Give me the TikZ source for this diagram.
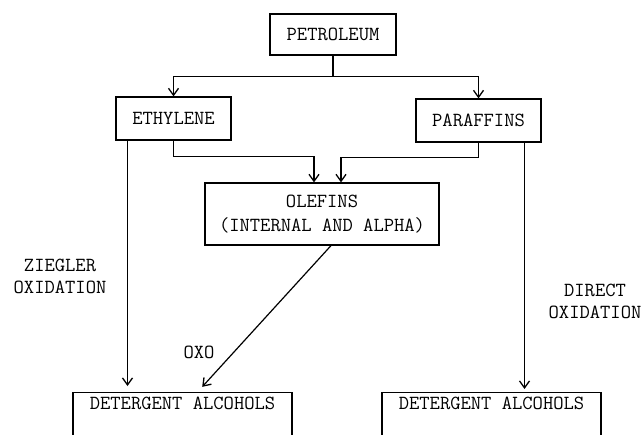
\documentclass[tikz,border=0pt]{standalone}
\usetikzlibrary{arrows.meta}
\begin{document}
\begin{tikzpicture}[x=1pt, y=-1pt, line width=1.2pt,
    box/.style={rectangle, draw, align=center, inner sep=0pt, font=\fontsize{20}{24}\selectfont\ttfamily},
    lbl/.style={align=center, inner sep=0pt, font=\fontsize{20}{22}\selectfont\ttfamily}]
    \clip (0,0) rectangle (644,434);
    \begin{scope}[every node/.style={box}]
      \node [minimum width=126, minimum height=41] (petroleum) at (333, 34.5) {PETROLEUM};
      \node [minimum width=115, minimum height=43] (ethylene) at (173.5, 118.5) {ETHYLENE};
      \node [minimum width=125, minimum height=43] (paraffins) at (478.5, 120.5) {PARAFFINS};
      \node [minimum width=234, minimum height=62] (olefins) at (322, 214) {OLEFINS\\(INTERNAL AND ALPHA)};
      \node [minimum width=219, anchor=north, text height=17, text depth=40]
      (alcleft) at (182.5, 392) {DETERGENT ALCOHOLS};
      \node [minimum width=219, anchor=north, text height=17, text depth=40]
      (alcright) at (491.5, 392) {DETERGENT ALCOHOLS};
    \end{scope}
    \begin{scope}[every node/.style={lbl}]
      \node (ziegler) at (60, 276) {ZIEGLER\\OXIDATION};
      \node (direct) at (595, 301) {DIRECT\\OXIDATION};
      \node (oxo) at (199, 352) {OXO};
    \end{scope}
    \begin{scope}[-{Straight Barb[length=7pt, width=10pt, line width=1.3pt]}]
      \draw (petroleum.south) -- ++(0,21) -| (ethylene.north); \draw
      (petroleum.south) -- ++(0,21) -| (paraffins.north);
      \draw (ethylene.south) -- ++(0,16) -| ([xshift=-8]olefins.north);
      \draw (paraffins.south) -- ++(0,15) -| ([xshift=19]olefins.north);
      \draw [shorten >=6] ([xshift=-46]ethylene.south) -- ([xshift=-46]ethylene.south |- alcleft.north);
      \draw [shorten >=3] ([xshift=46]paraffins.south) -- ([xshift=46]paraffins.south |- alcright.north);
      \draw [shorten >=7] ([xshift=9]olefins.south) -- ([xshift=15]alcleft.north);
    \end{scope}
  \end{tikzpicture}
\end{document}
